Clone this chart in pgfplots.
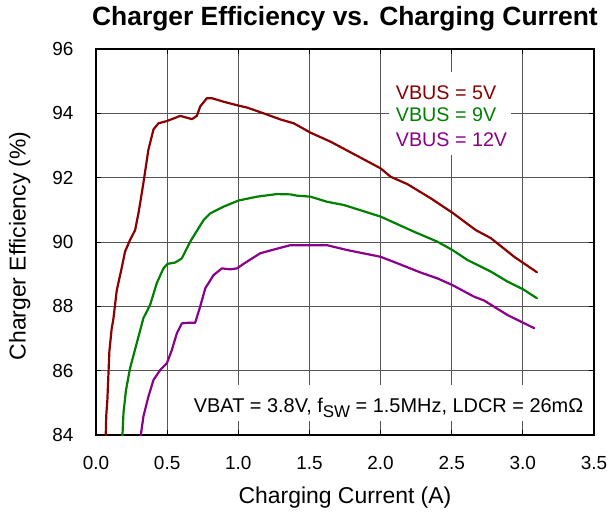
\documentclass[border=0pt]{standalone}
\usepackage{fontspec}
\setmainfont{Liberation Sans}
\usepackage{pgfplots}
\pgfplotsset{compat=1.18}
\definecolor{cred}{RGB}{139,0,0}
\definecolor{cgreen}{RGB}{0,128,0}
\definecolor{cpurple}{RGB}{139,0,139}
\definecolor{gridc}{RGB}{85,85,85}
\begin{document}
\begin{tikzpicture}
\path[use as bounding box] (-96bp,-81bp) rectangle (514bp,435bp);
\begin{axis}[
  scale only axis,
  width=498bp, height=386bp,
  xmin=0, xmax=3.5, ymin=84, ymax=96,
  xtick={0,0.5,...,3.5}, ytick={84,86,...,96},
  xticklabel style={/pgf/number format/fixed,/pgf/number format/fixed zerofill,/pgf/number format/precision=1, yshift=-18bp},
  yticklabel style={xshift=-19bp},
  /pgf/number format/assume math mode=true,
  tick label style={font=\fontsize{19}{22}\selectfont},
  grid=major,
  major grid style={draw=gridc, line width=0.9bp},
  axis line style={draw=black, line width=1.1bp},
  tick align=inside, major tick length=5bp,
  tick style={draw=black, line width=0.9bp},
  xlabel={Charging Current (A)},
  ylabel={Charger Efficiency (\%)},
  label style={font=\fontsize{23}{27}\selectfont},
  xlabel style={at={(axis description cs:0.5,-0.163)}, anchor=center},
  ylabel style={at={(axis description cs:-0.153,0.49)}, anchor=center},
  title={\bfseries Charger Efficiency vs. Charging Current},
  title style={font=\fontsize{26.5}{30}\selectfont, at={(axis description cs:0.5,1.062)}, anchor=center},
  every axis plot/.append style={line width=2.2bp, line join=round, line cap=round},
  clip=true,
]
\addplot[cred] coordinates {
(0.068,83.9) (0.072,84.6) (0.080,85.1) (0.094,86.6) (0.110,87.3) (0.122,87.6)
(0.146,88.5) (0.181,89.2) (0.204,89.7) (0.239,90.06) (0.275,90.37) (0.298,90.89)
(0.310,91.20) (0.333,91.83) (0.368,92.86) (0.404,93.50) (0.439,93.69) (0.498,93.76)
(0.592,93.92) (0.674,93.82) (0.709,93.92) (0.732,94.21) (0.779,94.47) (0.815,94.47)
(0.897,94.36) (1.002,94.24) (1.061,94.18) (1.178,94.00) (1.296,93.81) (1.390,93.69)
(1.507,93.40) (1.648,93.12) (2.000,92.29) (2.070,92.03) (2.188,91.80) (2.352,91.36)
(2.505,90.91) (2.669,90.37) (2.775,90.12) (2.939,89.54) (3.099,89.06)
};
\addplot[cgreen] coordinates {
(0.185,83.9) (0.193,84.68) (0.211,85.40) (0.239,86.07) (0.286,86.85) (0.333,87.63)
(0.380,88.04) (0.427,88.72) (0.474,89.18) (0.502,89.32) (0.556,89.36) (0.603,89.49)
(0.662,90.01) (0.756,90.68) (0.803,90.89) (0.897,91.10) (1.002,91.29) (1.132,91.41)
(1.272,91.49) (1.366,91.48) (1.413,91.44) (1.507,91.41) (1.624,91.25) (1.742,91.15)
(2.000,90.79) (2.235,90.32) (2.399,90.01) (2.505,89.75) (2.611,89.44) (2.775,89.08)
(2.892,88.77) (3.009,88.51) (3.099,88.25)
};
\addplot[cpurple] coordinates {
(0.312,83.9) (0.333,84.57) (0.368,85.19) (0.404,85.71) (0.451,86.02) (0.498,86.23)
(0.533,86.64) (0.568,87.16) (0.603,87.47) (0.650,87.49) (0.697,87.49) (0.732,87.99)
(0.768,88.56) (0.826,88.97) (0.885,89.18) (0.944,89.15) (0.991,89.18) (1.061,89.39)
(1.155,89.65) (1.237,89.75) (1.296,89.82) (1.366,89.90) (1.624,89.90) (1.765,89.75)
(2.000,89.54) (2.117,89.34) (2.282,89.05) (2.399,88.87) (2.505,88.66) (2.657,88.30)
(2.728,88.18) (2.892,87.73) (3.080,87.32)
};
\fill[white] (axis cs:2.056,92.70) rectangle (axis cs:2.915,95.29);
\fill[white] (axis cs:0.648,84.44) rectangle (axis cs:3.479,85.56);
\node[anchor=west, text=cred, font=\fontsize{19.8}{22}\selectfont, inner sep=0pt] at (axis cs:2.106,94.63) {VBUS = 5V};
\node[anchor=west, text=cgreen, font=\fontsize{19.8}{22}\selectfont, inner sep=0pt] at (axis cs:2.106,93.95) {VBUS = 9V};
\node[anchor=west, text=cpurple, font=\fontsize{19.8}{22}\selectfont, inner sep=0pt] at (axis cs:2.106,93.17) {VBUS = 12V};
\node[anchor=center, font=\fontsize{20}{22}\selectfont, inner sep=0pt] at (axis cs:2.056,84.84) {VBAT = 3.8V, f\raisebox{-0.25em}{\fontsize{17}{18}\selectfont SW} = 1.5MHz, LDCR = 26mΩ};
\end{axis}
\end{tikzpicture}
\end{document}
